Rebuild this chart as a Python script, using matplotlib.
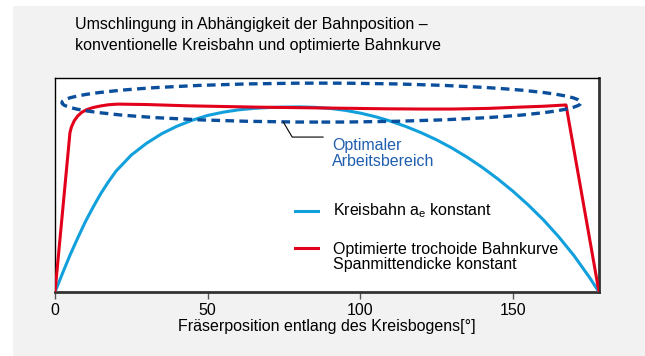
import matplotlib
matplotlib.use('Agg')
import matplotlib.pyplot as plt
from matplotlib.patches import Ellipse, Rectangle
from matplotlib.lines import Line2D

FONT = ['Liberation Sans Narrow', 'Liberation Sans', 'DejaVu Sans']
plt.rcParams['font.family'] = FONT
plt.rcParams['mathtext.fontset'] = 'custom'
plt.rcParams['mathtext.rm'] = 'Liberation Sans Narrow'

BLUE = '#12a0dc'
RED = '#e2001a'
DARKBLUE = '#0b4f9c'
TEXTBLUE = '#1f5eae'

# Kreisbahn, a_e konstant (Umschlingung relativ, 1 = Oberkante)
kreis_x = [0, 2.5, 5, 7.5, 10, 12.5, 15, 17.5, 20, 25, 30, 35, 40, 45, 50,
           55, 60, 65, 70, 75, 80, 85, 90, 95, 100, 105, 110, 115, 120,
           125, 130, 135, 140, 145, 150, 155, 160, 165, 170, 175, 178.2]
kreis_y = [0.0, 0.089, 0.175, 0.254, 0.330, 0.397, 0.460, 0.515, 0.565, 0.640,
           0.695, 0.740, 0.775, 0.803, 0.825, 0.840, 0.851, 0.858, 0.862, 0.864,
           0.865, 0.863, 0.858, 0.849, 0.836, 0.819, 0.798, 0.773, 0.744,
           0.711, 0.673, 0.630, 0.582, 0.529, 0.471, 0.407, 0.337, 0.258,
           0.170, 0.070, 0.0]

# Optimierte trochoide Bahnkurve, Spanmittendicke konstant
troch_x = [0, 4.9, 5.4, 6.3, 7.4, 8.8, 10.5, 12.5, 14.8, 17.5, 20.6, 30.0, 43.6,
           65.5, 87.5, 108.7, 120.0, 130.4, 142.0, 152.3, 160.0, 167.4, 178.2]
troch_y = [0.0, 0.745, 0.772, 0.800, 0.822, 0.840, 0.853, 0.862, 0.869, 0.875, 0.878,
           0.876, 0.870, 0.864, 0.860, 0.856, 0.855, 0.855, 0.858, 0.864, 0.868, 0.874, 0.0]

xticks = [0, 50, 100, 150]

fig = plt.figure(figsize=(6.45, 3.56), dpi=100, facecolor='white')
fig.patches.append(Rectangle((13 / 645, 0), 1, 350 / 356, transform=fig.transFigure,
                             facecolor='#f2f2f2', edgecolor='none', zorder=-10))

ax = fig.add_axes([55 / 645, 64 / 356, 544 / 645, 214 / 356])
ax.set_facecolor('white')

ax.plot(kreis_x, kreis_y, color=BLUE, lw=2.2, solid_capstyle='butt', zorder=3)
ax.plot(troch_x, troch_y, color=RED, lw=2.2, solid_joinstyle='round', zorder=4)

# optimaler Arbeitsbereich
ax.add_patch(Ellipse((87.3, 0.885), 170, 0.182, fill=False, edgecolor=DARKBLUE,
                     lw=2.4, linestyle=(0, (2.6, 1.6)), zorder=5))
ax.plot([74.8, 77.7, 87.8], [0.794, 0.724, 0.724], color='black', lw=0.8, zorder=5)
ax.text(90.7, 0.72, 'Optimaler\nArbeitsbereich', color=TEXTBLUE, fontsize=11.5,
        va='top', ha='left', linespacing=1.05)

# Legende
ax.add_line(Line2D([0.441, 0.483], [0.378, 0.378], transform=ax.transAxes,
                   color=BLUE, lw=2.2))
ax.text(0.511, 0.378, r'Kreisbahn $\mathregular{a_e}$ konstant', transform=ax.transAxes,
        fontsize=11.5, va='center', ha='left')
ax.add_line(Line2D([0.441, 0.483], [0.206, 0.206], transform=ax.transAxes,
                   color=RED, lw=2.2))
ax.text(0.511, 0.235, 'Optimierte trochoide Bahnkurve\nSpanmittendicke konstant',
        transform=ax.transAxes, fontsize=11.5, va='top', ha='left', linespacing=1.05)

ax.set_xlim(0, 178.2)
ax.set_ylim(0, 1)
ax.set_yticks([])
ax.set_xticks(xticks)
ax.tick_params(axis='x', length=5, width=1, color='#555555', labelsize=11.5, pad=3)

for s in ['top', 'left']:
    ax.spines[s].set_linewidth(1)
    ax.spines[s].set_color('black')
for s in ['bottom', 'right']:
    ax.spines[s].set_linewidth(2)
    ax.spines[s].set_color('#333333')

ax.set_xlabel('Fräserposition entlang des Kreisbogens[°]', fontsize=11.5, labelpad=1)

fig.text(75 / 645, 1 - 35 / 356, 'Umschlingung in Abhängigkeit der Bahnposition –\n'
         'konventionelle Kreisbahn und optimierte Bahnkurve',
         fontsize=11.5, va='center', ha='left', linespacing=1.55)

fig.savefig('out.png', dpi=100, facecolor=fig.get_facecolor())
